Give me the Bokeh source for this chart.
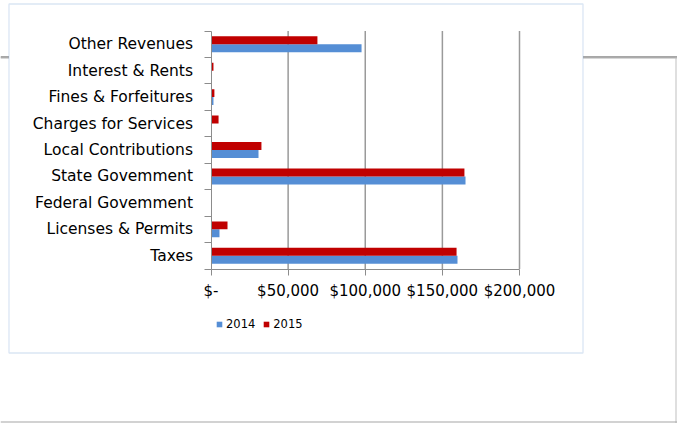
from bokeh.plotting import figure
from bokeh.models import (FixedTicker, CustomJSTickFormatter, BoxAnnotation, Legend,
                          LegendItem, ColumnDataSource, Range1d, LinearAxis)
from bokeh.transform import dodge
from bokeh.embed import file_html
from bokeh.resources import INLINE

categories = ["Taxes", "Licenses & Permits", "Federal Govemment", "State Govemment",
              "Local Contributions", "Charges for Services", "Fines & Forfeitures",
              "Interest & Rents", "Other Revenues"]
values_2014 = [159800, 5500, 0, 165000, 30800, 300, 1600, 500, 97600]
values_2015 = [159200, 10700, 0, 164300, 32700, 4900, 2200, 1600, 69000]
x_ticks = [0, 50000, 100000, 150000, 200000]
series_names = ["2014", "2015"]
series_colors = ["#558ED5", "#C00000"]

# ---- layout constants (pixels) ----
W, H = 677, 423
PX_X0, PX_X1 = 210.5, 519.0      # pixel positions of x = 0 and x = max tick
PX_Y0, PX_Y1 = 268.5, 30.5       # pixel positions of bottom / top of category bands
XMAX = x_ticks[-1]
NCAT = len(categories)

ux = (PX_X1 - PX_X0) / XMAX
uy = (PX_Y0 - PX_Y1) / NCAT
x_range = Range1d(-PX_X0 / ux, (W - PX_X0) / ux)
y_range = Range1d(-(H - PX_Y0) / uy, NCAT + PX_Y1 / uy)

pos = [i + 0.5 for i in range(NCAT)]
src = ColumnDataSource(dict(pos=pos, cat=categories, v14=values_2014, v15=values_2015))
grid_src = ColumnDataSource(dict(x=x_ticks[1:], y0=[0] * (len(x_ticks) - 1),
                                 y1=[NCAT] * (len(x_ticks) - 1)))

FONT = "DejaVu Sans"
GRAY = "#8C8C8C"

p = figure(width=W, height=H, output_backend="svg", toolbar_location=None,
           x_range=x_range, y_range=y_range, x_axis_type=None, y_axis_type=None,
           min_border=0, outline_line_color=None)
p.xgrid.visible = False
p.ygrid.visible = False

# vertical gridlines at tick values
p.segment(x0="x", y0="y0", x1="x", y1="y1", source=grid_src,
          line_color="#9A9A9A", line_width=1.5)

r14 = p.hbar(y=dodge("pos", -0.15, range=p.y_range), right="v14", left=0, height=0.3,
             source=src, fill_color=series_colors[0], line_color=None)
r15 = p.hbar(y=dodge("pos", 0.15, range=p.y_range), right="v15", left=0, height=0.3,
             source=src, fill_color=series_colors[1], line_color=None)

# hidden square-marker renderers used only as legend swatches
lg14 = p.scatter(x="v14", y="pos", source=src, marker="square", size=6,
                 fill_color=series_colors[0], line_color=None, visible=False)
lg15 = p.scatter(x="v15", y="pos", source=src, marker="square", size=6,
                 fill_color=series_colors[1], line_color=None, visible=False)

# x axis (value axis)
xaxis = LinearAxis(fixed_location=0, bounds=(0, XMAX))
xaxis.ticker = FixedTicker(ticks=x_ticks)
xaxis.formatter = CustomJSTickFormatter(code="""
    return tick == 0 ? "$-" : "$" + tick.toLocaleString("en-US");
""")
xaxis.axis_line_color = GRAY
xaxis.major_tick_line_color = GRAY
xaxis.major_tick_out = 6
xaxis.major_tick_in = 0
xaxis.minor_tick_line_color = None
xaxis.major_label_text_font = FONT
xaxis.major_label_text_font_size = "15px"
xaxis.major_label_text_color = "#000000"
xaxis.major_label_standoff = 7
p.add_layout(xaxis, "below")

# y axis (category axis) with tick marks between categories
yaxis = LinearAxis(fixed_location=0, bounds=(0, NCAT))
yaxis.ticker = FixedTicker(ticks=pos, minor_ticks=list(range(NCAT + 1)))
yaxis.major_label_overrides = {pv: c for pv, c in zip(pos, categories)}
yaxis.axis_line_color = GRAY
yaxis.major_tick_line_color = None
yaxis.major_tick_out = 0
yaxis.major_tick_in = 0
yaxis.minor_tick_line_color = GRAY
yaxis.minor_tick_out = 7
yaxis.minor_tick_in = 0
yaxis.major_label_text_font = FONT
yaxis.major_label_text_font_size = "15.5px"
yaxis.major_label_text_color = "#000000"
yaxis.major_label_standoff = 11
p.add_layout(yaxis, "left")

def canvas_box(l, r, t, b, **kw):
    return BoxAnnotation(left=l, right=r, top=t, bottom=b,
                         left_units="canvas", right_units="canvas",
                         top_units="canvas", bottom_units="canvas", **kw)

# worksheet cell borders behind the chart
p.add_layout(canvas_box(0, W, 56, 57, fill_color="#505050", fill_alpha=1,
                        line_color=None, level="image"))
p.add_layout(canvas_box(0, W, 57, 58, fill_color="#B0B0B0", fill_alpha=1,
                        line_color=None, level="image"))
p.add_layout(canvas_box(675, 676, 57, H, fill_color="#C0C0C0", fill_alpha=1,
                        line_color=None, level="image"))
p.add_layout(canvas_box(0, W, 421, 422, fill_color="#A6A6A6", fill_alpha=1,
                        line_color=None, level="image"))
# chart area (white, covers sheet lines) with its light blue border
p.add_layout(canvas_box(8.5, 582.5, 3.5, 352.5, fill_color="#FFFFFF", fill_alpha=1,
                        line_color="#89ACDA", line_width=1.3, level="underlay"))

legend = Legend(items=[LegendItem(label=series_names[0], renderers=[lg14]),
                       LegendItem(label=series_names[1], renderers=[lg15])],
                orientation="horizontal", location=(212, H - 331),
                glyph_width=14, glyph_height=14, label_standoff=0, spacing=4,
                padding=0, margin=0, border_line_color=None,
                background_fill_alpha=0, inactive_fill_alpha=0,
                label_text_font=FONT, label_text_font_size="11.5px",
                label_text_color="#000000", label_height=14)
p.add_layout(legend, "center")

open("out.html", "w").write(file_html(p, INLINE))
